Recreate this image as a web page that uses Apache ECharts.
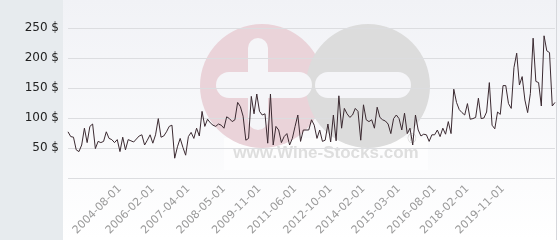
<!DOCTYPE html>
<html><head><meta charset="utf-8">
<script src="https://cdn.jsdelivr.net/npm/echarts@6/dist/echarts.min.js"></script>
<style>html,body{margin:0;padding:0;background:#fff}#c{width:560px;height:240px}</style>
</head><body><div id="c"></div>
<script>
const categories = [
"2003-01-01","2003-02-01","2003-03-01","2003-04-01","2003-05-01","2003-06-01","2003-07-01","2003-08-01","2003-09-01","2003-10-01","2003-11-01","2003-12-01",
"2004-01-01","2004-02-01","2004-03-01","2004-04-01","2004-05-01","2004-06-01","2004-07-01","2004-08-01",
"2004-10-01","2004-11-01","2005-01-01","2005-02-01","2005-04-01","2005-05-01","2005-07-01","2005-08-01","2005-09-01","2005-11-01","2005-12-01","2006-02-01",
"2006-03-01","2006-04-01","2006-05-01","2006-06-01","2006-07-01","2006-08-01","2006-09-01","2006-10-01","2006-11-01","2007-01-01","2007-02-01","2007-03-01","2007-04-01",
"2007-05-01","2007-06-01","2007-07-01","2007-08-01","2007-09-01","2007-10-01","2007-11-01","2007-12-01","2008-01-01","2008-02-01","2008-03-01","2008-04-01","2008-05-01",
"2008-06-01","2008-07-01","2008-09-01","2008-10-01","2008-12-01","2009-01-01","2009-03-01","2009-04-01","2009-06-01","2009-07-01","2009-09-01","2009-10-01","2009-11-01",
"2009-12-01","2010-01-01","2010-03-01","2010-04-01","2010-06-01","2010-07-01","2010-09-01","2010-10-01","2010-12-01","2011-01-01","2011-03-01","2011-04-01","2011-06-01",
"2011-07-01","2011-08-01","2011-10-01","2011-11-01","2011-12-01","2012-01-01","2012-03-01","2012-04-01","2012-05-01","2012-06-01","2012-08-01","2012-09-01","2012-10-01",
"2012-11-01","2012-12-01","2013-02-01","2013-03-01","2013-05-01","2013-06-01","2013-07-01","2013-09-01","2013-10-01","2013-11-01","2014-01-01","2014-02-01",
"2014-03-01","2014-04-01","2014-05-01","2014-06-01","2014-07-01","2014-08-01","2014-09-01","2014-10-01","2014-11-01","2014-12-01","2015-01-01","2015-02-01","2015-03-01",
"2015-04-01","2015-05-01","2015-07-01","2015-08-01","2015-09-01","2015-11-01","2015-12-01","2016-01-01","2016-03-01","2016-04-01","2016-05-01","2016-07-01","2016-08-01",
"2016-09-01","2016-11-01","2016-12-01","2017-02-01","2017-03-01","2017-05-01","2017-06-01","2017-08-01","2017-09-01","2017-11-01","2017-12-01","2018-02-01",
"2018-03-01","2018-05-01","2018-07-01","2018-08-01","2018-10-01","2018-12-01","2019-01-01","2019-03-01","2019-04-01","2019-06-01","2019-07-01","2019-09-01","2019-11-01",
"2019-12-01","2020-01-01","2020-03-01","2020-04-01","2020-06-01","2020-07-01","2020-08-01","2020-10-01","2020-11-01","2021-01-01","2021-02-01","2021-04-01","2021-05-01","2021-07-01","2021-08-01","2021-10-01","2021-11-01","2022-01-01","2022-02-01"
];
const prices = [
77,69,68,47,44,55,83,59,86,90,49,61,59,61,77,66,64,59,64,44,68,47,64,62,60,65,70,72,55,
63,72,58,72,99,68,70,77,86,88,33,52,66,51,38,69,76,66,83,70,111,86,98,92,88,86,90,88,83,102,
99,94,97,126,119,103,63,66,136,107,140,111,105,107,58,140,55,86,80,59,69,74,55,66,86,105,61,80,80,80,97,
88,66,80,61,63,90,60,105,62,137,83,116,107,101,105,116,111,63,122,97,94,97,83,118,101,97,95,90,74,99,105,
99,80,108,74,83,55,105,80,70,73,72,61,72,72,80,69,83,73,94,74,148,126,114,109,105,124,98,99,101,133,99,
100,110,159,88,82,110,106,154,154,124,116,184,208,155,169,130,109,141,233,161,159,120,237,212,209,120,126
];
const tickLabels = ["2004-08-01","2006-02-01","2007-04-01","2008-05-01","2009-11-01","2011-06-01","2012-10-01","2014-02-01","2015-03-01","2016-08-01","2018-02-01","2019-11-01"];
const yTicks = [0, 50, 100, 150, 200, 250];

const chart = echarts.init(document.getElementById('c'), null, {renderer:'canvas'});
const font = 'DejaVu Sans';
chart.setOption({
  animation:false,
  backgroundColor: {type:'linear', x:0, y:0, x2:0, y2:1, colorStops:[{offset:0,color:'#f1f2f6'},{offset:1,color:'#ffffff'}]},
  graphic: [
    {type:'rect', left:0, top:0, shape:{width:63, height:240}, style:{fill:'#e7ebee'}, z:-10, silent:true},
    {type:'line', shape:{x1:556.5,y1:0,x2:556.5,y2:240}, style:{stroke:'#d6d8dc', lineWidth:1}, z:-10, silent:true},
    {type:'rect', shape:{x:224, y:138, width:204, height:32}, style:{fill:'rgba(255,255,255,0.6)'}, z:-9, silent:true},
    {type:'circle', shape:{cx:262, cy:86, r:62}, style:{fill:'#ead3d9'}, z:-8, silent:true},
    {type:'circle', shape:{cx:368, cy:86, r:62}, style:{fill:'#dcdcdc'}, z:-7, silent:true},
    {type:'rect', shape:{x:248, y:38, width:20, height:92, r:10}, style:{fill:'#f5f5f8'}, z:-6, silent:true},
    {type:'rect', shape:{x:216, y:72, width:96, height:26, r:13}, style:{fill:'#f5f5f8'}, z:-6, silent:true},
    {type:'rect', shape:{x:315, y:72, width:96, height:26, r:13}, style:{fill:'#f5f5f8'}, z:-6, silent:true},
    {type:'text', style:{x:326, y:153, text:'www.Wine-Stocks.com', font:'bold 17px "Liberation Sans", Arial, sans-serif', fill:'#dedede', align:'center', verticalAlign:'middle'}, z:-5, silent:true},
    {type:'text', style:{x:412, y:140, text:'®', font:'12px "Liberation Sans", sans-serif', fill:'#d2d2d2', align:'center', verticalAlign:'middle'}, z:-5, silent:true}
  ],
  grid:{left:68, right:5, top:28, bottom:62, containLabel:false},
  xAxis:{
    type:'category', data:categories, boundaryGap:false,
    axisLine:{show:false}, axisTick:{show:false},
    axisLabel:{
      interval:(idx, val)=>tickLabels.indexOf(val) >= 0,
      rotate:45, margin:9, color:'#9a9a9a', fontFamily:font, fontSize:11
    },
    splitLine:{show:false}
  },
  yAxis:{
    type:'value', min:yTicks[0], max:yTicks[yTicks.length-1], interval:50,
    axisLine:{show:false}, axisTick:{show:false},
    axisLabel:{formatter:v=>v===0?'':v+' $', color:'#222', fontFamily:font, fontSize:12, margin:9},
    splitLine:{lineStyle:{color:'#dcdde0', width:1}}
  },
  series:[{
    type:'line', data:prices, showSymbol:false, symbol:'none',
    lineStyle:{color:'#3b2a31', width:1}, z:5
  }]
});
</script></body></html>
